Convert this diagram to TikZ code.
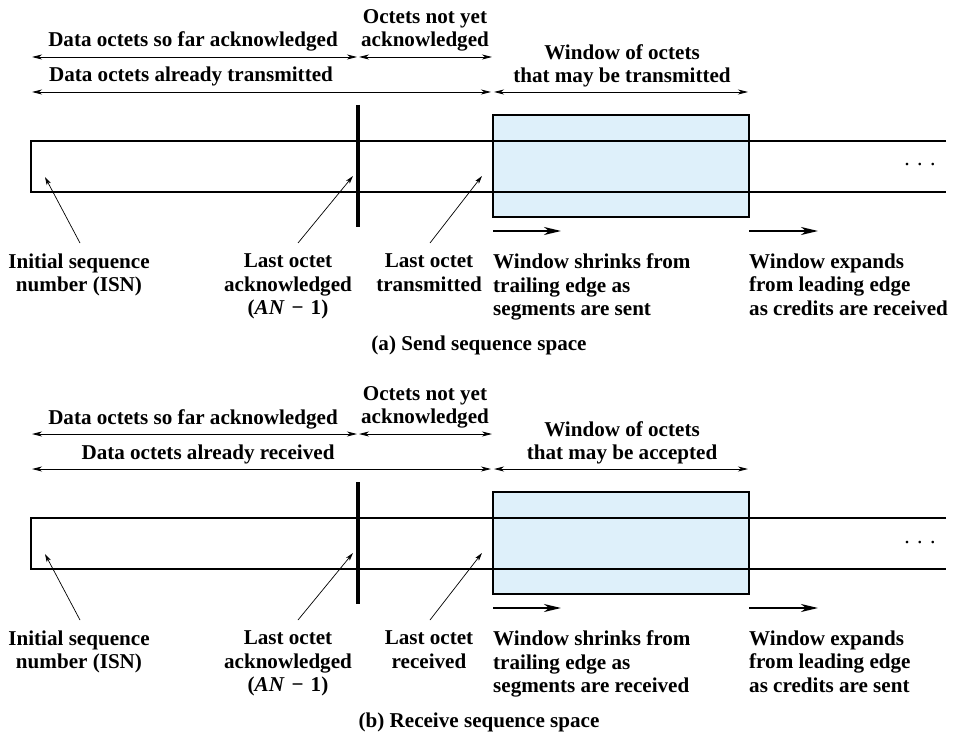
\documentclass[tikz,border=0pt]{standalone}
\usepackage{fontspec}
\setmainfont{Liberation Serif}
\usetikzlibrary{arrows.meta}
\definecolor{winblue}{RGB}{222,240,250}
\tikzset{
  lbl/.style={inner sep=0pt, font=\bfseries\fontsize{21.1}{23.5}\selectfont},
  dimarrow/.style={line width=0.9pt, {Stealth[length=10pt,width=5pt,inset=3pt]}-{Stealth[length=10pt,width=5pt,inset=3pt]}},
  pointer/.style={line width=0.7pt, -{Stealth[length=8pt,width=4.5pt,inset=2pt]}},
  movearrow/.style={line width=2pt, -{Stealth[length=17pt,width=8pt,inset=5pt]}},
  tapeline/.style={line width=2.2pt},
  winbox/.style={line width=2.4pt},
  ackbar/.style={line width=3.3pt},
}
\newcommand\seqpanel[9]{%
\begin{scope}[shift={(0,#2)}]
  % window and tape
  \fill[winblue] (493,115) rectangle (749,217);
  \draw[tapeline] (946,141) -- (31,141) -- (31,192) -- (946,192);
  \draw[winbox] (493,115) rectangle (749,217);
  \draw[ackbar] (358,105) -- (358,227);
  \node[lbl, font=\mdseries\fontsize{22}{23.5}\selectfont, anchor=base] (#1-dots) at (920,166) {.\hspace{7.5pt}.\hspace{7.5pt}.};
  % dimension arrows
  \coordinate (#1-r1a) at (32,57);  \coordinate (#1-r1b) at (357,57);
  \coordinate (#1-r1c) at (359,57); \coordinate (#1-r1d) at (492,57);
  \coordinate (#1-r2a) at (32,92);  \coordinate (#1-r2b) at (491,92);
  \coordinate (#1-r2c) at (494,92); \coordinate (#1-r2d) at (748,92);
  \draw[dimarrow] (#1-r1a) -- (#1-r1b);
  \draw[dimarrow] (#1-r1c) -- (#1-r1d);
  \draw[dimarrow] (#1-r2a) -- (#1-r2b);
  \draw[dimarrow] (#1-r2c) -- (#1-r2d);
  \node[lbl, anchor=base] (#1-soFar) at (193,47) {Data octets so far acknowledged};
  \node[lbl, anchor=north, align=center] (#1-notYet) at (425,9) {Octets not yet\\acknowledged};
  \node[lbl, anchor=base] (#1-already) at (#4,82) {#3};
  \node[lbl, anchor=north, align=center] (#1-window) at (622,44) {Window of octets\\that may be #5};
  % labels below
  \node[lbl, anchor=north, align=center] (#1-isn) at (79,253.5) {Initial sequence\\number (ISN)};
  \node[lbl, anchor=north, align=center] (#1-lastAck) at (288,253.5) {Last octet\\acknowledged\\(\textit{AN}\,\,−\,\,1)};
  \node[lbl, anchor=north, align=center] (#1-lastOct) at (429,253.5) {Last octet\\#6};
  \node[lbl, anchor=north west, align=left] (#1-shrink) at (493,253.5) {Window shrinks from\\trailing edge as\\#7};
  \node[lbl, anchor=north west, align=left] (#1-expand) at (749,253.5) {Window expands\\from leading edge\\#8};
  \node[lbl, anchor=base] (#1-caption) at (479,350) {#9};
  % pointers
  \coordinate (#1-isnFrom) at (80,243);  \coordinate (#1-isnTo) at (45,177);
  \coordinate (#1-ackFrom) at (298,243); \coordinate (#1-ackTo) at (353,176);
  \coordinate (#1-octFrom) at (430,243); \coordinate (#1-octTo) at (482,176);
  \draw[pointer] (#1-isnFrom) -- (#1-isnTo);
  \draw[pointer] (#1-ackFrom) -- (#1-ackTo);
  \draw[pointer] (#1-octFrom) -- (#1-octTo);
  % window movement arrows
  \coordinate (#1-shA) at (493,231); \coordinate (#1-shB) at (561,231);
  \coordinate (#1-exA) at (749,231); \coordinate (#1-exB) at (818,231);
  \draw[movearrow] (#1-shA) -- (#1-shB);
  \draw[movearrow] (#1-exA) -- (#1-exB);
\end{scope}}
\begin{document}
\begin{tikzpicture}[x=1pt,y=-1pt]
  \useasboundingbox (0,0) rectangle (956,733);
  \seqpanel{a}{0}{Data octets already transmitted}{191}{transmitted}{transmitted}{segments are sent}{as credits are received}{(a) Send sequence space}
  \seqpanel{b}{377}{Data octets already received}{208}{accepted}{received}{segments are received}{as credits are sent}{(b) Receive sequence space}
\end{tikzpicture}
\end{document}
